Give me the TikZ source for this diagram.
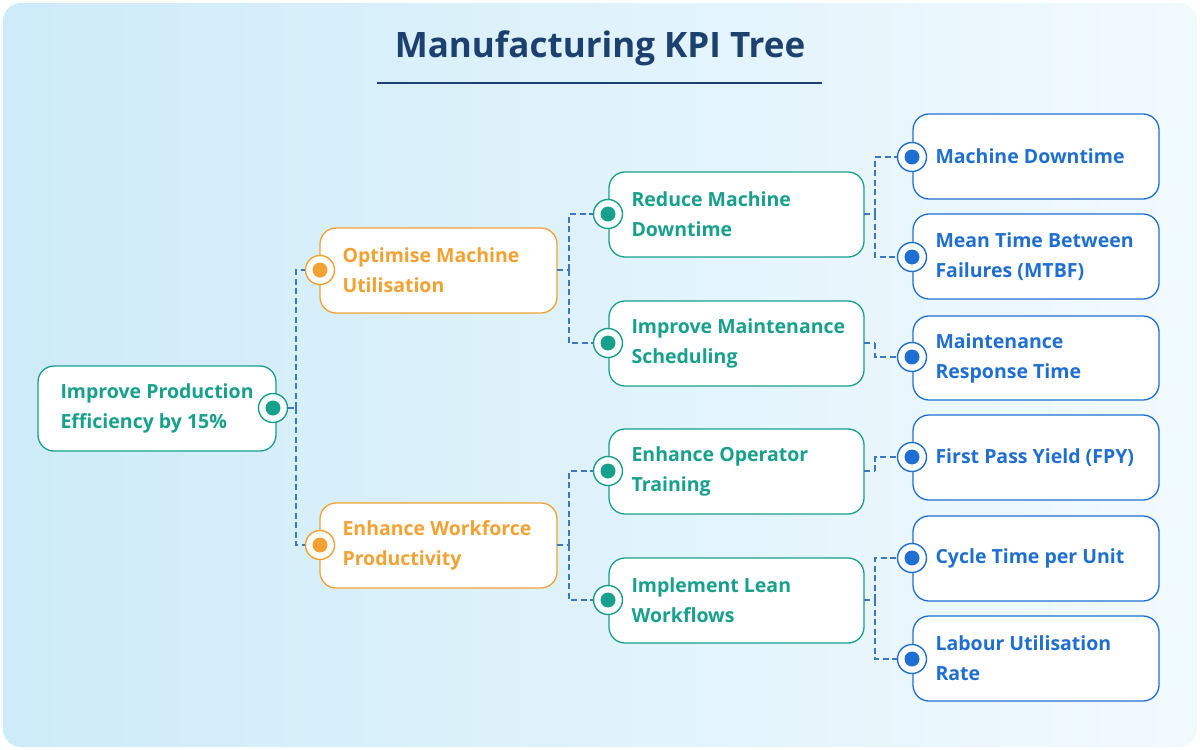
\documentclass[tikz,border=0pt]{standalone}
\usepackage{fontspec}
\setmainfont{Open Sans}
\definecolor{teal}{HTML}{17A08C}
\definecolor{orng}{HTML}{F2A232}
\definecolor{blu}{HTML}{1F6FD2}
\definecolor{navy}{HTML}{1C4170}
\definecolor{line}{HTML}{3A78C0}
\definecolor{bgA}{HTML}{CDEBF8}
\definecolor{bgB}{HTML}{F2FAFE}
\begin{document}
\begin{tikzpicture}[x=1pt,y=-1pt,
  box/.style={draw=#1,line width=1.3pt,fill=white,rounded corners=16pt,inner sep=0},
  txt/.style={anchor=west,align=left,font=\bfseries\fontsize{19.5}{30}\selectfont,text=#1},
  dot/.style={circle,draw=#1,fill=white,line width=1.4pt,minimum size=29pt,inner sep=0,
    path picture={\fill[#1] (path picture bounding box.center) circle (7.5pt);}},
  con/.style={draw=line,line width=1.3pt,dash pattern=on 6pt off 3.5pt}]
\useasboundingbox (0,0) rectangle (1200,750);
\shade[left color=bgA,right color=bgB,rounded corners=18pt] (3,3) rectangle (1197,747);
\node[font=\bfseries\fontsize{35}{40}\selectfont,text=navy] (title) at (600,48) {Manufacturing KPI Tree};
\draw[navy,line width=1.2pt] (377,83) -- (822,83);
\newcommand{\kbox}[7]{% name,x1,y1,x2,y2,color,text
  \draw[box=#6] (#2,#3) rectangle (#4,#5);
  \node[txt=#6] (#1) at (#2+19,{(#3+#5)/2}) {#7};}
\kbox{root}{38}{366}{276}{451}{teal}{Improve Production\\Efficiency by 15\%}
\kbox{opt}{320}{228}{557}{313}{orng}{Optimise Machine\\Utilisation}
\kbox{enh}{320}{503}{557}{588}{orng}{Enhance Workforce\\Productivity}
\kbox{red}{609}{172}{864}{257}{teal}{Reduce Machine\\Downtime}
\kbox{imp}{609}{301}{864}{386}{teal}{Improve Maintenance\\Scheduling}
\kbox{eop}{609}{429}{864}{514}{teal}{Enhance Operator\\Training}
\kbox{lean}{609}{558}{864}{643}{teal}{Implement Lean\\Workflows}
\kbox{md}{913}{114}{1159}{199}{blu}{Machine Downtime}
\kbox{mtbf}{913}{214}{1159}{299}{blu}{Mean Time Between\\Failures (MTBF)}
\kbox{mrt}{913}{316}{1159}{400}{blu}{Maintenance\\Response Time}
\kbox{fpy}{913}{415}{1159}{500}{blu}{First Pass Yield (FPY)}
\kbox{ct}{913}{516}{1159}{601}{blu}{Cycle Time per Unit}
\kbox{lu}{913}{616}{1159}{701}{blu}{Labour Utilisation\\Rate}
\coordinate (b1) at (296,408);
\coordinate (b2) at (569,270); \coordinate (b3) at (569,545);
\coordinate (b4) at (875,214); \coordinate (b5) at (875,343);
\coordinate (b6) at (875,471); \coordinate (b7) at (875,600);
\node[dot=teal] (droot) at (273,408) {};
\node[dot=orng] (dopt) at (320,270) {};
\node[dot=orng] (denh) at (320,545) {};
\node[dot=teal] (dred) at (608,214) {};
\node[dot=teal] (dimp) at (608,343) {};
\node[dot=teal] (deop) at (608,471) {};
\node[dot=teal] (dlean) at (608,600) {};
\node[dot=blu] (dmd) at (912,157) {};
\node[dot=blu] (dmtbf) at (912,257) {};
\node[dot=blu] (dmrt) at (912,357) {};
\node[dot=blu] (dfpy) at (912,457) {};
\node[dot=blu] (dct) at (912,558) {};
\node[dot=blu] (dlu) at (912,659) {};
\draw[con] (droot.east) -- (b1);
\draw[con] (b1) |- (dopt.west); \draw[con] (b1) |- (denh.west);
\draw[con] (557,270) -- (b2); \draw[con] (557,545) -- (b3);
\draw[con] (b2) |- (dred.west); \draw[con] (b2) |- (dimp.west);
\draw[con] (b3) |- (deop.west); \draw[con] (b3) |- (dlean.west);
\draw[con] (864,214) -- (b4); \draw[con] (b4) |- (dmd.west); \draw[con] (b4) |- (dmtbf.west);
\draw[con] (864,343) -- (b5); \draw[con] (b5) |- (dmrt.west);
\draw[con] (864,471) -- (b6); \draw[con] (b6) |- (dfpy.west);
\draw[con] (864,600) -- (b7); \draw[con] (b7) |- (dct.west); \draw[con] (b7) |- (dlu.west);
\end{tikzpicture}
\end{document}
